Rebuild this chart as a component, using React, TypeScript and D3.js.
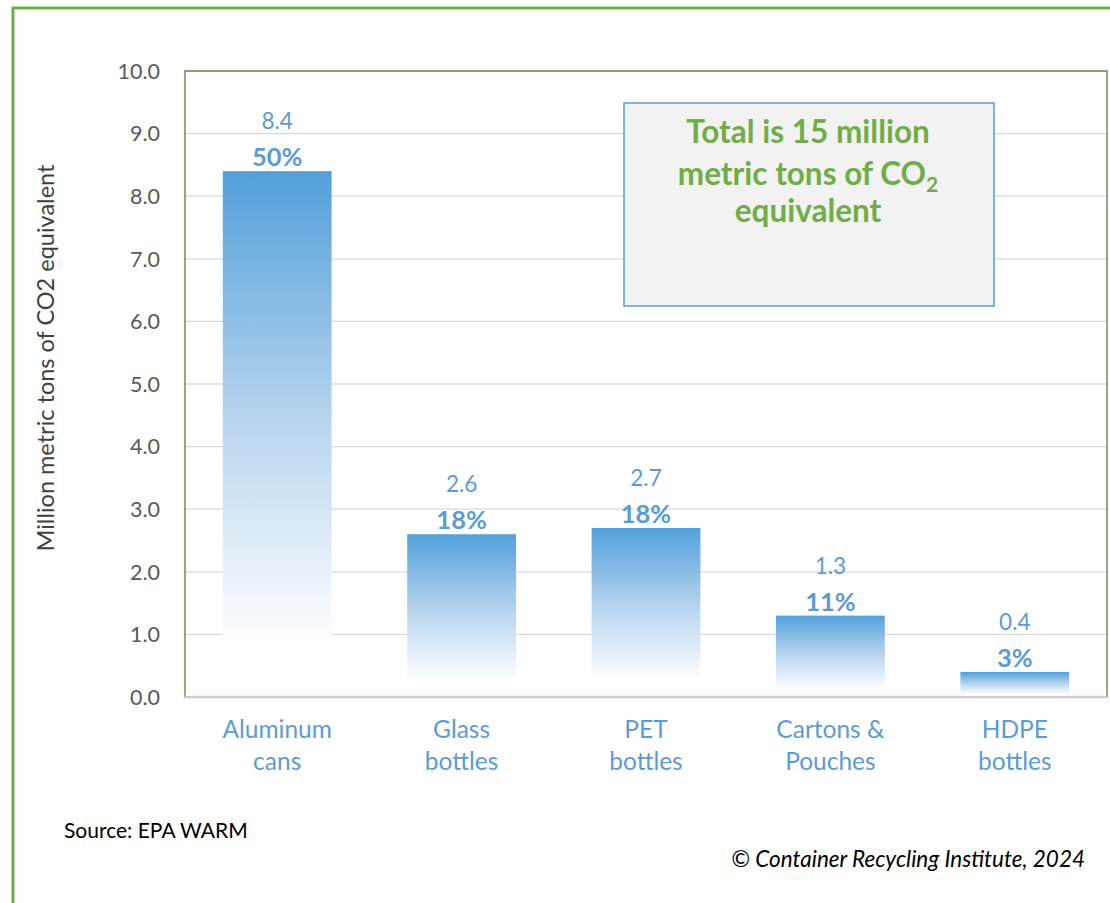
import React from "react";
import * as d3 from "d3";

const categories = [["Aluminum", "cans"], ["Glass", "bottles"], ["PET", "bottles"], ["Cartons &", "Pouches"], ["HDPE", "bottles"]];
const values = [8.4, 2.6, 2.7, 1.3, 0.4];
const shares = ["50%", "18%", "18%", "11%", "3%"];
const yTicks = [0, 1, 2, 3, 4, 5, 6, 7, 8, 9, 10];

const W = 1110, H = 903;
const plot = { left: 185, right: 1107, top: 71, bottom: 697 };
const FONT = "Lato, 'Open Sans', sans-serif";
const BLUE = "#5B9BD5";
const GREEN = "#70AD47";

export default function App() {
  const x = d3.scaleBand<number>().domain(d3.range(values.length)).range([plot.left, plot.right]).paddingInner(0.41).paddingOuter(0.205);
  const y = d3.scaleLinear().domain([0, 10]).range([plot.bottom, plot.top]);
  return (
    <svg width={W} height={H} style={{ position: "absolute", left: 0, top: 0, background: "#fff" }}>
      <defs>
        <linearGradient id="barGrad" x1="0" y1="0" x2="0" y2="1">
          <stop offset="0" stopColor="#52A0DB" />
          <stop offset="0.45" stopColor="#B3D2ED" />
          <stop offset="0.9" stopColor="#FFFFFF" />
          <stop offset="1" stopColor="#FFFFFF" />
        </linearGradient>
      </defs>
      <rect x={0} y={0} width={W} height={H} fill="#fff" />
      {/* outer frame */}
      <rect x={13} y={8} width={W + 20} height={H + 20} fill="none" stroke={GREEN} strokeWidth={3} />
      {/* gridlines */}
      {yTicks.slice(1).map((t) => (
        <line key={t} x1={plot.left} x2={plot.right} y1={y(t)} y2={y(t)} stroke="#D9D9D9" strokeWidth={1.3} />
      ))}
      {/* plot area border */}
      <rect x={plot.left} y={plot.top} width={plot.right - plot.left} height={plot.bottom - plot.top} fill="none" stroke="#548235" strokeWidth={1.3} />
      {/* bars */}
      {values.map((v, i) => (
        <rect key={i} x={x(i)} y={y(v)} width={x.bandwidth()} height={y(0) - y(v)} fill="url(#barGrad)" />
      ))}
      <line x1={plot.left} x2={plot.right} y1={plot.bottom} y2={plot.bottom} stroke="#D0CECE" strokeWidth={2.5} />
      {/* tick labels */}
      {yTicks.map((t) => (
        <text key={t} x={160} y={y(t)} dy="0.36em" textAnchor="end" fontFamily={FONT} fontSize={21.5} fill="#595959">{t.toFixed(1)}</text>
      ))}
      {/* value labels */}
      {values.map((v, i) => (
        <g key={i}>
          <text x={(x(i) as number) + x.bandwidth() / 2} y={y(v) - 42} textAnchor="middle" fontFamily={FONT} fontSize={22.5} fill={BLUE}>{v.toFixed(1)}</text>
          <text x={(x(i) as number) + x.bandwidth() / 2} y={y(v) - 5} textAnchor="middle" fontFamily={FONT} fontSize={25.5} fontWeight="bold" fill={BLUE}>{shares[i]}</text>
        </g>
      ))}
      {/* category labels */}
      {categories.map((c, i) => (
        <text key={i} x={(x(i) as number) + x.bandwidth() / 2} textAnchor="middle" fontFamily={FONT} fontSize={24.5} fill={BLUE}>
          <tspan x={(x(i) as number) + x.bandwidth() / 2} y={738}>{c[0]}</tspan>
          <tspan x={(x(i) as number) + x.bandwidth() / 2} y={770}>{c[1]}</tspan>
        </text>
      ))}
      {/* y title */}
      <text transform={`translate(54,358) rotate(-90)`} textAnchor="middle" fontFamily={FONT} fontSize={23.5} fill="#404040">Million metric tons of CO2 equivalent</text>
      {/* text box */}
      <rect x={624} y={103} width={370} height={203} fill="#F2F2F2" stroke={BLUE} strokeWidth={1.5} />
      <text textAnchor="middle" fontFamily={FONT} fontSize={31.5} fontWeight="bold" fill={GREEN}>
        <tspan x={808} y={143}>Total is 15 million</tspan>
        <tspan x={808} y={185}>metric tons of CO<tspan fontSize={21} dy={7}>2</tspan></tspan>
        <tspan x={808} y={222}>equivalent</tspan>
      </text>
      <text x={64} y={838} fontFamily={FONT} fontSize={21} fill="#000">Source: EPA WARM</text>
      <text x={1085} y={867} textAnchor="end" fontFamily={FONT} fontSize={22.5} fontStyle="italic" fill="#000">© Container Recycling Institute, 2024</text>
    </svg>
  );
}
